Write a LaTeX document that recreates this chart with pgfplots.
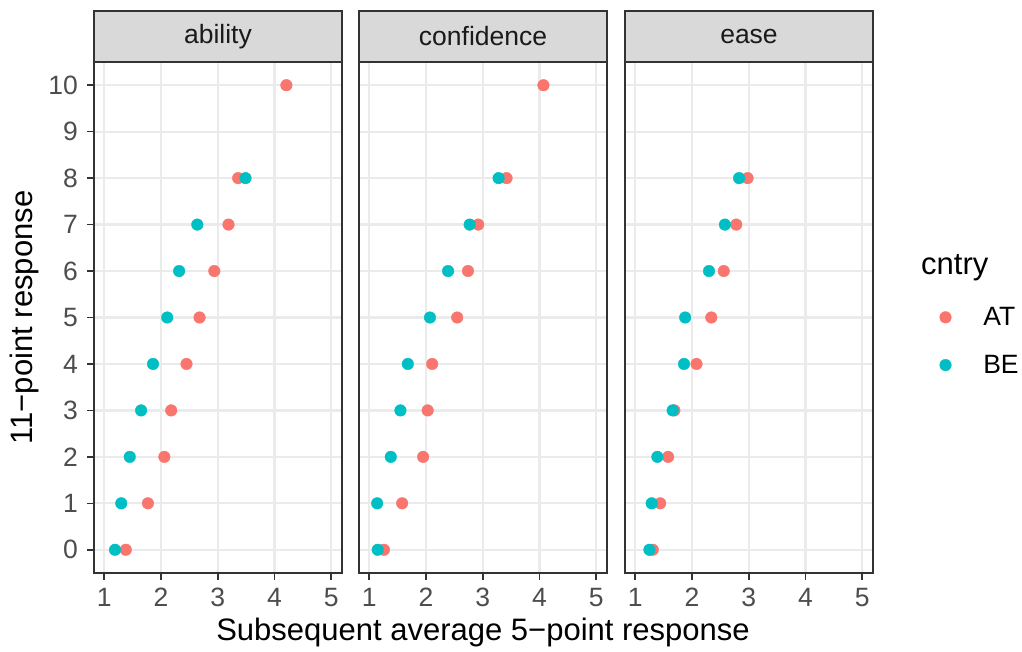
\documentclass[border=0pt]{standalone}
\usepackage{fontspec}
\setmainfont{Liberation Sans}
\usepackage{pgfplots}
\pgfplotsset{compat=1.18}
\definecolor{cAT}{HTML}{F8766D}
\definecolor{cBE}{HTML}{00BFC4}
\definecolor{gridc}{HTML}{EBEBEB}
\definecolor{framec}{HTML}{333333}
\definecolor{tickc}{HTML}{4D4D4D}
\definecolor{stripc}{HTML}{D9D9D9}
\definecolor{stript}{HTML}{1A1A1A}
\newcommand{\smallf}{\fontsize{26.5}{30}\selectfont}
\newcommand{\bigf}{\fontsize{31}{36}\selectfont}
\pgfplotsset{
 panel/.style={
  scale only axis, width=248pt, height=511pt,
  xmin=0.82, xmax=5.19, ymin=-0.5, ymax=10.5,
  xtick={1,2,3,4,5}, ytick={0,1,2,3,4,5,6,7,8,9,10},
  grid=major, major grid style={gridc, line width=2.2pt},
  axis line style={framec, line width=1.6pt},
  tick style={framec, line width=1.6pt},
  major tick length=7pt, tick align=outside,
  xtick pos=left, ytick pos=left,
  /pgf/number format/assume math mode=true,
  tick label style={font=\smallf, text=tickc},
  yticklabel style={inner sep=0pt, xshift=-9pt},
  xticklabel style={inner sep=0pt, yshift=-8pt},
  clip=false, anchor=south west,
 },
 sAT/.style={only marks, mark=*, mark size=5.8pt, color=cAT, mark options={fill=cAT, draw=cAT}},
 sBE/.style={only marks, mark=*, mark size=5.8pt, color=cBE, mark options={fill=cBE, draw=cBE}},
}
\begin{document}
\begin{tikzpicture}[x=1pt,y=1pt]
\path[use as bounding box] (0,0) rectangle (1022,652);
% panel 1: ability
\begin{axis}[panel, at={(94pt,79pt)},
  ylabel={11−point response},
  every axis y label/.style={at={(axis description cs:-0.246,0.5)}, rotate=90, anchor=base, font=\bigf}]
\addplot[sAT] coordinates {(4.21,10) (3.36,8) (3.19,7) (2.94,6) (2.68,5) (2.45,4) (2.18,3) (2.06,2) (1.77,1) (1.38,0)};
\addplot[sBE] coordinates {(3.49,8) (2.64,7) (2.32,6) (2.11,5) (1.86,4) (1.65,3) (1.45,2) (1.30,1) (1.19,0)};
\end{axis}
% panel 2: confidence
\begin{axis}[panel, at={(359pt,79pt)}, yticklabels={}, ytick style={draw=none},
  xlabel={Subsequent average 5−point response},
  every axis x label/.style={at={(axis description cs:0.5,-0.1325)}, anchor=base, font=\bigf}]
\addplot[sAT] coordinates {(4.07,10) (3.42,8) (2.92,7) (2.74,6) (2.55,5) (2.11,4) (2.03,3) (1.95,2) (1.58,1) (1.26,0)};
\addplot[sBE] coordinates {(3.28,8) (2.77,7) (2.39,6) (2.07,5) (1.68,4) (1.55,3) (1.38,2) (1.14,1) (1.15,0)};
\end{axis}
% panel 3: ease
\begin{axis}[panel, at={(625pt,79pt)}, yticklabels={}, ytick style={draw=none},
  legend image code/.code={\draw[#1] plot coordinates {(6pt,0pt)};},
  legend style={at={(axis description cs:1.269,0.5196)}, anchor=north west, draw=none, fill=none, inner sep=0pt, outer sep=0pt,
    font=\smallf, row sep=28pt, nodes={inner sep=0pt, text=black}, legend cell align=left,
    /tikz/every odd column/.append style={column sep=32pt}}]
\addplot[sAT] coordinates {(2.98,8) (2.78,7) (2.56,6) (2.34,5) (2.08,4) (1.69,3) (1.58,2) (1.44,1) (1.31,0)};
\addlegendentry{AT}
\addplot[sBE] coordinates {(2.83,8) (2.58,7) (2.30,6) (1.88,5) (1.86,4) (1.66,3) (1.39,2) (1.29,1) (1.25,0)};
\addlegendentry{BE}
\end{axis}
% strips
\filldraw[fill=stripc, draw=framec, line width=1.6pt] (94,590) rectangle (342,641);
\node[text=stript, font=\smallf, inner sep=0pt] at (218,615.5) {ability};
\filldraw[fill=stripc, draw=framec, line width=1.6pt] (359,590) rectangle (607,641);
\node[text=stript, font=\smallf, inner sep=0pt] at (483,615.5) {confidence};
\filldraw[fill=stripc, draw=framec, line width=1.6pt] (625,590) rectangle (873,641);
\node[text=stript, font=\smallf, inner sep=0pt] at (749,615.5) {ease};
% legend title
\node[anchor=base west, inner sep=0pt, font=\bigf] at (921,377) {cntry};
\end{tikzpicture}
\end{document}
